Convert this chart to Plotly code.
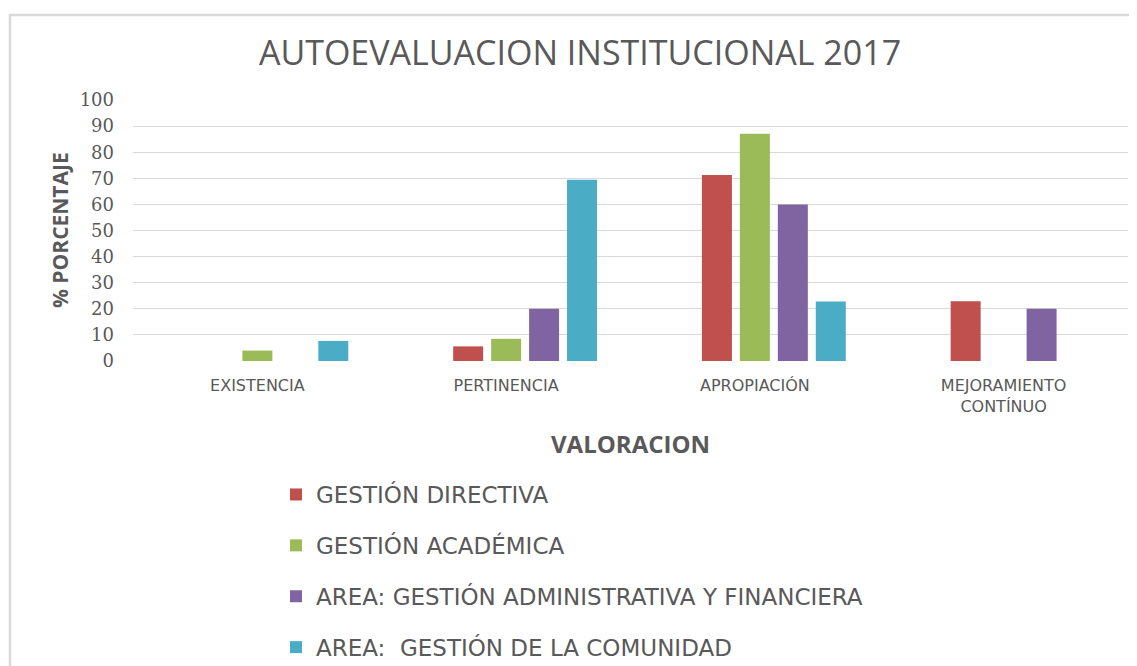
import plotly.graph_objects as go

categories = ["EXISTENCIA", "PERTINENCIA", "APROPIACIÓN", "MEJORAMIENTO<br>CONTÍNUO"]
series_names = [
    "GESTIÓN DIRECTIVA",
    "GESTIÓN ACADÉMICA",
    "AREA: GESTIÓN ADMINISTRATIVA Y FINANCIERA",
    "AREA:  GESTIÓN DE LA COMUNIDAD",
]
directiva = [0, 5.6, 71.3, 22.9]
academica = [4.0, 8.5, 87.1, 0]
administrativa = [0, 20.0, 60.0, 20.0]
comunidad = [7.7, 69.4, 22.8, 0]
series_values = [directiva, academica, administrativa, comunidad]
colors = ["#C0504D", "#9BBB59", "#8064A2", "#4BACC6"]
y_ticks = list(range(0, 101, 10))

TXT = "#595959"
OFF = 8  # default page body margin
W, H = 1137 - OFF, 666 - OFF
L, R, T = 133 - OFF, 9, 100 - OFF
B = H - (361 - OFF)
pw = W - L - R
ph = H - T - B


def px_x(page_x):
    return (page_x - OFF - L) / pw


def px_y(page_y):
    return (T + ph - (page_y - OFF)) / ph


fig = go.Figure()
# empty leading series slot (the source chart has an empty first series)
fig.add_trace(go.Bar(x=categories, y=[None] * len(categories), showlegend=False,
                     hoverinfo="skip", marker_color="rgba(0,0,0,0)"))
for name, vals, col in zip(series_names, series_values, colors):
    fig.add_trace(go.Bar(x=categories, y=vals, name=name, marker_color=col,
                         legendgroup=name, marker_line_width=0))

fig.update_layout(
    width=W, height=H,
    margin=dict(l=L, r=R, t=T, b=B, autoexpand=False),
    paper_bgcolor="white", plot_bgcolor="white",
    barmode="group", bargap=0.237, bargroupgap=0.21,
    title=dict(text="AUTOEVALUACION INSTITUCIONAL 2017", x=(580 - OFF) / W, xanchor="center",
               y=1 - (53 - OFF) / H, yanchor="middle", xref="container", yref="container",
               font=dict(family="Open Sans", size=34, color=TXT)),
    font=dict(family="Open Sans", color=TXT),
    legend=dict(orientation="v", xref="container", yref="container",
                x=(316 - OFF - 40) / W, xanchor="left",
                y=1 - (473 - OFF) / H, yanchor="top",
                font=dict(family="DejaVu Sans", size=23, color=TXT),
                traceorder="grouped", tracegroupgap=18, bgcolor="rgba(0,0,0,0)"),
    shapes=[dict(type="rect", xref="paper", yref="paper",
                 x0=px_x(10), x1=px_x(1137 + 30),
                 y0=px_y(15), y1=px_y(666 + 30),
                 line=dict(color="#D9D9D9", width=2.5), fillcolor="rgba(0,0,0,0)", layer="below")],
    annotations=[
        dict(text="<b>% PORCENTAJE</b>", xref="paper", yref="paper",
             x=px_x(60), y=px_y(230), textangle=-90, showarrow=False,
             xanchor="center", yanchor="middle",
             font=dict(family="Open Sans", size=21, color=TXT)),
        dict(text="<b>VALORACION</b>", xref="paper", yref="paper",
             x=px_x(630), y=px_y(443), showarrow=False,
             xanchor="center", yanchor="middle",
             font=dict(family="Open Sans", size=24, color=TXT)),
    ],
)
fig.update_xaxes(showgrid=False, showline=False, zeroline=False, ticks="",
                 tickfont=dict(family="DejaVu Sans", size=16, color=TXT),
                 ticklabelstandoff=13, automargin=False)
fig.update_yaxes(range=[0, 100], tickvals=y_ticks, showgrid=True, gridcolor="#D9D9D9",
                 gridwidth=1.3, zeroline=False, showline=False, ticks="",
                 tickfont=dict(family="DejaVu Serif", size=18, color=TXT),
                 ticklabelstandoff=18, automargin=False)

fig.write_html("out.html")
